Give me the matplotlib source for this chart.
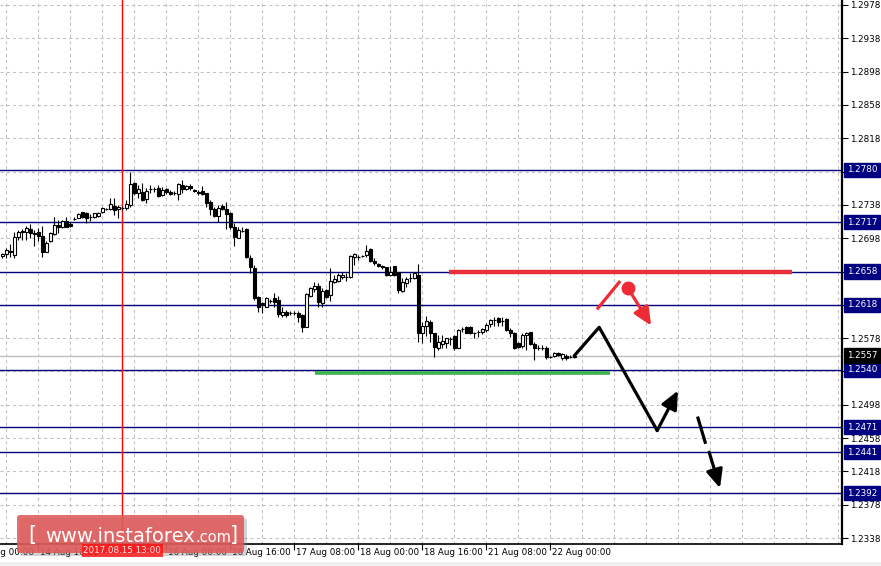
import numpy as np
import matplotlib
matplotlib.use("Agg")
import matplotlib.pyplot as plt
from matplotlib.patches import FancyBboxPatch, Rectangle
from matplotlib.transforms import blended_transform_factory

# GBP/USD H1 candles, 14 Aug 07:00 .. 22 Aug 06:00
opens = [1.2677, 1.2679, 1.2683, 1.2678, 1.2699, 1.2705, 1.2705, 1.2709, 1.2704, 1.2705,
         1.2701, 1.2681, 1.2695, 1.2703, 1.2714, 1.2711, 1.2719, 1.2715, 1.2721, 1.2722,
         1.2729, 1.2728, 1.2723, 1.2723, 1.2725, 1.2729, 1.2733, 1.2733, 1.2737, 1.2733,
         1.2734, 1.2734, 1.2738, 1.2764, 1.2752, 1.2753, 1.2745, 1.2757, 1.2757, 1.2758,
         1.2750, 1.2757, 1.2753, 1.2752, 1.2751, 1.2762, 1.2757, 1.2761, 1.2756, 1.2753,
         1.2755, 1.2752, 1.2741, 1.2733, 1.2725, 1.2737, 1.2733, 1.2728, 1.2711, 1.2698,
         1.2707, 1.2709, 1.2674, 1.2662, 1.2627, 1.2619, 1.2615, 1.2623, 1.2626, 1.2624,
         1.2606, 1.2609, 1.2608, 1.2608, 1.2608, 1.2606, 1.2591, 1.2629, 1.2637, 1.2641,
         1.2620, 1.2636, 1.2630, 1.2645, 1.2647, 1.2651, 1.2651, 1.2651, 1.2675, 1.2675,
         1.2677, 1.2678, 1.2685, 1.2671, 1.2667, 1.2665, 1.2663, 1.2654, 1.2665, 1.2657,
         1.2635, 1.2644, 1.2650, 1.2650, 1.2654, 1.2584, 1.2593, 1.2597, 1.2584, 1.2566,
         1.2571, 1.2572, 1.2577, 1.2581, 1.2566, 1.2589, 1.2591, 1.2591, 1.2584, 1.2585,
         1.2585, 1.2588, 1.2595, 1.2600, 1.2602, 1.2599, 1.2601, 1.2588, 1.2584, 1.2572,
         1.2569, 1.2582, 1.2585, 1.2571, 1.2566, 1.2566, 1.2566, 1.2555, 1.2557, 1.2560,
         1.2554, 1.2557, 1.2555, 1.2555]
highs = [1.2680, 1.2686, 1.2691, 1.2705, 1.2708, 1.2709, 1.2713, 1.2715, 1.2708, 1.2710,
         1.2713, 1.2695, 1.2705, 1.2723, 1.2720, 1.2720, 1.2723, 1.2717, 1.2723, 1.2728,
         1.2729, 1.2729, 1.2727, 1.2728, 1.2729, 1.2735, 1.2734, 1.2746, 1.2746, 1.2738,
         1.2737, 1.2744, 1.2777, 1.2765, 1.2762, 1.2764, 1.2758, 1.2762, 1.2759, 1.2762,
         1.2759, 1.2758, 1.2756, 1.2755, 1.2764, 1.2768, 1.2762, 1.2763, 1.2757, 1.2756,
         1.2761, 1.2752, 1.2744, 1.2735, 1.2738, 1.2739, 1.2741, 1.2729, 1.2716, 1.2711,
         1.2711, 1.2710, 1.2678, 1.2666, 1.2629, 1.2621, 1.2627, 1.2625, 1.2632, 1.2629,
         1.2615, 1.2612, 1.2611, 1.2611, 1.2611, 1.2607, 1.2632, 1.2639, 1.2645, 1.2644,
         1.2638, 1.2637, 1.2662, 1.2654, 1.2656, 1.2657, 1.2656, 1.2678, 1.2680, 1.2678,
         1.2678, 1.2690, 1.2686, 1.2674, 1.2668, 1.2666, 1.2663, 1.2665, 1.2665, 1.2657,
         1.2650, 1.2651, 1.2656, 1.2657, 1.2667, 1.2597, 1.2605, 1.2600, 1.2584, 1.2582,
         1.2582, 1.2578, 1.2579, 1.2582, 1.2589, 1.2591, 1.2593, 1.2593, 1.2585, 1.2588,
         1.2590, 1.2596, 1.2601, 1.2603, 1.2603, 1.2603, 1.2602, 1.2590, 1.2585, 1.2573,
         1.2584, 1.2585, 1.2585, 1.2573, 1.2570, 1.2570, 1.2569, 1.2557, 1.2561, 1.2561,
         1.2560, 1.2559, 1.2558, 1.2558]
lows = [1.2674, 1.2674, 1.2675, 1.2674, 1.2696, 1.2696, 1.2696, 1.2698, 1.2689, 1.2695,
        1.2675, 1.2681, 1.2693, 1.2702, 1.2704, 1.2710, 1.2711, 1.2711, 1.2720, 1.2722,
        1.2722, 1.2716, 1.2719, 1.2722, 1.2723, 1.2728, 1.2732, 1.2732, 1.2726, 1.2722,
        1.2732, 1.2732, 1.2735, 1.2750, 1.2746, 1.2743, 1.2740, 1.2752, 1.2753, 1.2747,
        1.2749, 1.2751, 1.2750, 1.2750, 1.2744, 1.2752, 1.2756, 1.2756, 1.2753, 1.2750,
        1.2750, 1.2735, 1.2726, 1.2723, 1.2717, 1.2732, 1.2709, 1.2709, 1.2689, 1.2698,
        1.2705, 1.2674, 1.2656, 1.2624, 1.2609, 1.2608, 1.2615, 1.2620, 1.2615, 1.2603,
        1.2603, 1.2603, 1.2606, 1.2606, 1.2597, 1.2585, 1.2591, 1.2627, 1.2633, 1.2615,
        1.2615, 1.2626, 1.2623, 1.2644, 1.2645, 1.2649, 1.2647, 1.2650, 1.2666, 1.2672,
        1.2675, 1.2675, 1.2669, 1.2666, 1.2663, 1.2661, 1.2653, 1.2653, 1.2653, 1.2632,
        1.2633, 1.2639, 1.2645, 1.2649, 1.2573, 1.2572, 1.2581, 1.2573, 1.2555, 1.2564,
        1.2566, 1.2566, 1.2570, 1.2564, 1.2566, 1.2585, 1.2584, 1.2583, 1.2578, 1.2579,
        1.2583, 1.2585, 1.2591, 1.2593, 1.2593, 1.2593, 1.2587, 1.2579, 1.2565, 1.2566,
        1.2566, 1.2564, 1.2570, 1.2552, 1.2564, 1.2564, 1.2553, 1.2554, 1.2555, 1.2557,
        1.2552, 1.2552, 1.2554, 1.2554]
closes = [1.2679, 1.2684, 1.2682, 1.2699, 1.2705, 1.2707, 1.2710, 1.2704, 1.2703, 1.2701,
          1.2681, 1.2692, 1.2704, 1.2714, 1.2711, 1.2719, 1.2711, 1.2713, 1.2721, 1.2727,
          1.2723, 1.2722, 1.2723, 1.2728, 1.2728, 1.2734, 1.2733, 1.2739, 1.2732, 1.2735,
          1.2734, 1.2739, 1.2763, 1.2752, 1.2757, 1.2744, 1.2755, 1.2757, 1.2757, 1.2749,
          1.2756, 1.2753, 1.2751, 1.2752, 1.2763, 1.2757, 1.2761, 1.2758, 1.2755, 1.2752,
          1.2751, 1.2740, 1.2733, 1.2725, 1.2734, 1.2733, 1.2727, 1.2711, 1.2699, 1.2708,
          1.2707, 1.2675, 1.2663, 1.2626, 1.2615, 1.2620, 1.2626, 1.2623, 1.2621, 1.2607,
          1.2609, 1.2606, 1.2608, 1.2608, 1.2603, 1.2591, 1.2631, 1.2638, 1.2641, 1.2621,
          1.2635, 1.2627, 1.2647, 1.2649, 1.2654, 1.2654, 1.2651, 1.2677, 1.2679, 1.2675,
          1.2677, 1.2683, 1.2671, 1.2668, 1.2665, 1.2663, 1.2654, 1.2657, 1.2654, 1.2636,
          1.2645, 1.2649, 1.2650, 1.2656, 1.2584, 1.2593, 1.2599, 1.2584, 1.2567, 1.2573,
          1.2575, 1.2578, 1.2577, 1.2566, 1.2588, 1.2589, 1.2584, 1.2584, 1.2584, 1.2585,
          1.2589, 1.2594, 1.2600, 1.2600, 1.2597, 1.2599, 1.2588, 1.2584, 1.2566, 1.2567,
          1.2582, 1.2584, 1.2571, 1.2566, 1.2566, 1.2566, 1.2555, 1.2555, 1.2560, 1.2558,
          1.2559, 1.2554, 1.2555, 1.2557]

# price scale ticks / levels
price_ticks = [1.2978, 1.2938, 1.2898, 1.2858, 1.2818, 1.2778, 1.2738, 1.2698, 1.2658,
               1.2618, 1.2578, 1.2538, 1.2498, 1.2458, 1.2418, 1.2378, 1.2338]
hidden_ticks = [1.2778, 1.2658, 1.2618, 1.2538]
levels = [1.2780, 1.2717, 1.2658, 1.2618, 1.2540, 1.2471, 1.2441, 1.2392]

# time axis (bar number from first candle)
time_labels = ["14 Aug 00:00", "14 Aug 16:00", "16 Aug 00:00", "16 Aug 16:00", "17 Aug 08:00",
               "18 Aug 00:00", "18 Aug 16:00", "21 Aug 08:00", "22 Aug 00:00"]
time_label_bars = [-7, 9, 41, 57, 73, 89, 105, 121, 137]
marker_bar = 30
marker_label = "2017.08.15 13:00"

# forecast drawing (bar, price)
resist_line = ([111.7, 197.4], 1.2658)
support_line = ([78.2, 151.9], 1.2536)
forecast_path = ([143, 149.2, 163.7], [1.2557, 1.2591, 1.2467])
forecast_up = ((163.7, 1.2467), (168.9, 1.2515))
red_stroke = ([148.9, 154.2], [1.2614, 1.2645])
red_dot = (156.4, 1.2638)
red_down = ((156.4, 1.2638), (162.2, 1.2593))
dash_down = ((173.9, 1.2482), (175.7, 1.2453), (176.7, 1.2441), (179.4, 1.2398))

W, H = 881, 566
NAVY = "#000080"
plt.rcParams['font.family'] = ['DejaVu Sans']

fig = plt.figure(figsize=(W / 100, H / 100), dpi=100)
ax = fig.add_axes([0, 1 - 544 / H, 842 / W, 544 / H])

# grid
for p in price_ticks:
    ax.axhline(p, color="#c0c0c0", lw=0.75, ls=(0, (3, 3)), zorder=0)
for b in range(1, 210, 8):
    ax.axvline(b, color="#c0c0c0", lw=0.75, ls=(0, (3, 3)), zorder=0)

# levels
for lv in levels:
    ax.axhline(lv, color=NAVY, lw=1.0, zorder=1)
ax.axhline(closes[-1], color="#c0c0c0", lw=1.0, zorder=1)
ax.axvline(marker_bar, color="red", lw=1.0, zorder=1)

# candles
o = np.array(opens); h = np.array(highs); l = np.array(lows); c = np.array(closes)
x = np.arange(len(c))
up = c >= o
ax.vlines(x, l, h, color="black", lw=0.8, zorder=2)
ax.bar(x, c - o, bottom=o, width=0.6, color=np.where(up, "white", "black"),
       edgecolor="black", linewidth=0.8, zorder=3)

# forecast drawing
head = "-|>,head_length=0.55,head_width=0.25"
ax.hlines(resist_line[1], *resist_line[0], color="#e8303a", lw=3.2, zorder=4)
ax.hlines(support_line[1], *support_line[0], color="#3cb44b", lw=2.6, zorder=4)
ax.plot(*forecast_path, color="black", lw=2.3, solid_capstyle="round", zorder=5)
ax.annotate("", xy=forecast_up[1], xytext=forecast_up[0], zorder=5,
            arrowprops=dict(arrowstyle=head, color="black", lw=2.3, mutation_scale=20,
                            shrinkA=0, shrinkB=0))
ax.plot(*red_stroke, color="#ee2b35", lw=2.3, zorder=5)
ax.plot(*red_dot, "o", color="#ee2b35", ms=9, zorder=5)
ax.annotate("", xy=red_down[1], xytext=red_down[0], zorder=5,
            arrowprops=dict(arrowstyle=head, color="#ee2b35", lw=2.3, mutation_scale=20,
                            shrinkA=0, shrinkB=0))
ax.plot([dash_down[0][0], dash_down[1][0]], [dash_down[0][1], dash_down[1][1]],
        color="black", lw=2.3, zorder=5)
ax.annotate("", xy=dash_down[3], xytext=dash_down[2], zorder=5,
            arrowprops=dict(arrowstyle=head, color="black", lw=2.3, mutation_scale=20,
                            shrinkA=0, shrinkB=0))

# axes look
for s in ["top", "left"]:
    ax.spines[s].set_visible(False)
ax.spines["bottom"].set_linewidth(1.2)
ax.spines["right"].set_linewidth(1.6)
ax.yaxis.tick_right()
ax.set_yticks(price_ticks)
ax.set_yticklabels(["" if p in hidden_ticks else f"{p:.4f}" for p in price_ticks])
ax.tick_params(axis="y", length=4, width=0.8, pad=2, labelsize=6.3)
ax.set_xticks(time_label_bars)
ax.set_xticklabels([])
ax.tick_params(axis="x", length=4, width=0.8)
# limits last: set_xticks widens the view to include the ticks
ax.set_xlim(-0.575, 209.9)
ax.set_ylim(1.23308, 1.2984)

tb = blended_transform_factory(ax.transData, ax.transAxes)
for lab, b in zip(time_labels, time_label_bars):
    ax.text(b + 0.3, -0.008, lab, transform=tb, ha="left", va="top", fontsize=6.3, clip_on=False)

ty = blended_transform_factory(ax.transAxes, ax.transData)
for lv in levels:
    ax.text(1.0 + 5 / 842, lv, f"{lv:.4f}", transform=ty, ha="left", va="center", fontsize=6.3,
            color="white", clip_on=False, zorder=6,
            bbox=dict(boxstyle="square,pad=0.3", fc=NAVY, ec=NAVY))
ax.text(1.0 + 5 / 842, closes[-1], f"{closes[-1]:.4f}", transform=ty, ha="left", va="center",
        fontsize=6.3, color="white", clip_on=False, zorder=6,
        bbox=dict(boxstyle="square,pad=0.3", fc="black", ec="black"))

# overlay in pixel units: watermark and bottom strip
ov = fig.add_axes([0, 0, 1, 1])
ov.set_xlim(0, W)
ov.set_ylim(H, 0)
ov.axis("off")
ov.patch.set_visible(False)
ov.add_patch(Rectangle((0, 562), W, 4, fc="#f0f0f0", ec="none"))
ov.add_patch(FancyBboxPatch((20, 518), 227, 38, boxstyle="round,pad=0,rounding_size=3",
                            fc="#808080", ec="none", alpha=0.35))
ov.add_patch(FancyBboxPatch((17, 515), 227, 38, boxstyle="round,pad=0,rounding_size=3",
                            fc="#e05a5a", ec="none", alpha=0.88))
# red time marker label shows through the watermark
ov.text(marker_bar, -0.004, marker_label, transform=tb, ha="center", va="top", fontsize=6.3,
        color="white", clip_on=False, alpha=0.9,
        bbox=dict(boxstyle="square,pad=0.2", fc="#ff1010", ec="none", alpha=0.8))
ov.text(28, 535, "[", color="white", fontsize=15, va="center", ha="left")
t1 = ov.text(45, 536, "www.instaforex", color="white", fontsize=14, va="center", ha="left")
fig.canvas.draw()
bb = t1.get_window_extent()
x_com = bb.x1 + 1
ov.text(x_com, 538, ".com", color="white", fontsize=10.5, va="center", ha="left")
ov.text(230, 535, "]", color="white", fontsize=15, va="center", ha="left")

fig.savefig("out.png", dpi=100)
